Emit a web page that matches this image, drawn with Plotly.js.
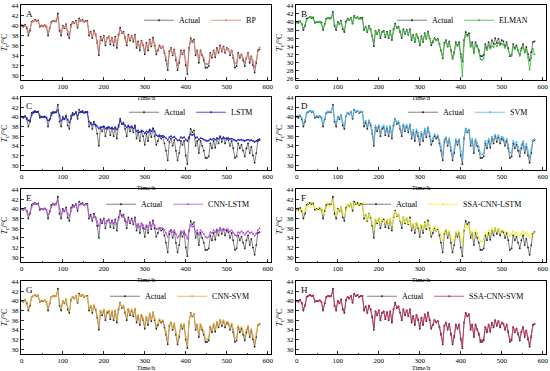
<!DOCTYPE html>
<html>
<head>
<meta charset="utf-8">
<script src="https://cdn.plot.ly/plotly-3.0.1.min.js"></script>
<style>html,body{margin:0;padding:0;background:#fff}#chart{width:550px;height:371px}</style>
</head>
<body>
<div id="chart"></div>
<script>
const time = [0,4,8,12,16,20,24,28,32,36,40,44,48,52,56,60,64,68,72,76,80,84,88,92,96,100,104,108,112,116,120,124,128,132,136,140,144,148,152,156,160,164,168,172,176,180,184,188,192,196,200,204,208,212,216,220,224,228,232,236,240,244,248,252,256,260,264,268,272,276,280,284,288,292,296,300,304,308,312,316,320,324,328,332,336,340,344,348,352,356,360,364,368,372,376,380,384,388,392,396,400,404,408,412,416,420,424,428,432,436,440,444,448,452,456,460,464,468,472,476,480,484,488,492,496,500,504,508,512,516,520,524,528,532,536,540,544,548,552,556,560,564,568,572,576,580];

const actual = [40.0,39.8,40.2,39.5,38.0,39.0,40.8,41.0,41.2,41.0,
41.1,39.8,40.0,39.9,40.1,39.8,38.0,39.5,40.8,41.0,
40.9,41.0,42.5,39.0,38.0,40.0,39.5,40.3,38.2,37.5,
40.2,40.8,40.5,41.0,39.6,41.5,41.0,41.2,40.8,41.0,
41.0,38.0,38.8,37.5,39.0,38.2,36.5,34.0,37.8,37.0,
38.0,36.0,37.5,37.8,36.2,37.6,36.0,37.8,35.5,38.2,
39.6,38.5,38.8,37.5,36.0,38.2,37.0,38.0,36.8,38.2,
35.5,36.8,35.0,37.0,36.0,34.2,36.5,35.0,37.2,35.8,
37.6,36.0,34.2,35.0,36.0,35.5,35.8,34.5,33.0,31.0,
34.8,35.5,34.0,35.2,33.0,31.0,32.5,35.0,34.2,35.0,
32.0,30.2,35.5,37.5,36.8,37.2,34.0,35.0,32.5,35.0,
34.0,33.0,31.5,31.5,31.8,34.5,33.5,35.0,33.6,35.5,
34.5,36.0,34.8,35.8,34.5,35.5,35.2,34.0,35.0,33.5,
31.5,31.8,34.5,33.5,34.2,33.0,31.8,33.5,34.5,32.5,
33.8,32.0,30.5,32.5,35.0,35.2];

const predBP = [40.2,40.0,40.0,39.8,38.6,39.3,40.6,41.0,41.0,41.1,
40.9,40.0,40.1,39.8,40.0,39.9,38.5,39.4,40.6,40.9,
41.0,40.8,41.8,39.5,38.6,39.8,39.7,40.1,38.8,38.0,
39.8,40.6,40.6,40.8,39.9,41.0,41.1,41.0,40.9,40.9,
40.8,38.5,38.6,37.9,38.7,38.4,37.0,35.0,37.5,37.4,
37.8,36.5,37.4,37.9,36.8,37.5,36.6,37.6,36.2,38.0,
39.2,38.6,38.6,37.8,36.6,37.9,37.3,37.9,37.2,37.9,
36.0,36.6,35.6,36.8,36.2,34.9,36.2,35.4,36.9,36.0,
37.2,36.2,34.8,35.2,35.8,35.6,35.7,34.8,33.6,32.0,
34.5,35.3,34.3,35.0,33.6,32.0,33.0,34.8,34.4,34.8,
32.6,31.2,35.0,37.0,36.6,36.9,34.5,34.9,33.2,34.8,
34.2,33.5,32.3,32.2,32.4,34.2,33.9,34.8,34.0,35.2,
34.8,35.7,35.0,35.6,34.8,35.4,35.2,34.4,34.9,34.0,
32.4,32.5,34.2,33.8,34.2,33.4,32.6,33.6,34.3,33.0,
33.8,32.8,31.6,32.8,34.8,35.6];

const predELMAN = [39.8,40.0,40.1,39.6,38.4,39.2,40.5,41.0,41.1,41.2,
40.8,39.7,40.1,39.9,40.0,39.6,38.3,39.3,40.6,41.0,
40.8,40.9,42.0,39.3,38.4,39.8,39.4,40.2,38.5,37.9,
39.9,40.6,40.4,40.9,39.8,41.2,41.0,41.1,40.9,40.8,
40.6,38.3,38.9,37.8,38.8,38.0,36.8,35.2,37.6,37.2,
37.9,36.5,37.4,37.6,36.6,37.4,36.4,37.6,36.0,37.9,
39.3,38.4,38.6,37.8,36.4,37.9,37.2,37.8,37.0,37.9,
35.9,36.6,35.4,36.8,36.2,34.6,36.2,35.3,37.0,35.9,
37.4,35.8,34.8,35.3,35.8,35.4,35.6,34.4,32.8,31.2,
34.4,35.2,33.8,34.9,32.8,30.8,32.0,34.6,34.0,34.6,
31.2,26.5,34.2,37.0,36.4,36.8,33.8,34.6,32.2,34.6,
33.8,32.6,30.8,30.6,31.0,33.8,33.0,34.2,33.4,34.0,
33.8,34.6,34.0,34.8,34.2,34.6,34.4,33.6,34.4,33.2,
31.8,31.6,33.8,33.2,33.8,32.8,31.6,33.0,33.9,32.4,
33.2,31.2,28.2,31.0,33.4,32.0];

const predLSTM = [40.0,40.0,40.0,39.8,39.2,39.3,40.3,40.8,41.0,41.0,
41.0,40.2,40.0,40.0,40.0,39.9,39.2,39.4,40.3,40.8,
40.9,40.9,41.4,40.2,39.2,39.6,39.6,40.0,39.4,38.8,
39.6,40.4,40.5,40.8,40.2,40.9,41.0,41.0,40.9,40.9,
40.9,39.0,38.6,38.4,38.5,38.4,38.0,37.6,37.8,37.9,
38.0,37.6,37.8,37.9,37.6,37.8,37.5,37.8,37.4,37.9,
39.2,38.6,38.5,38.2,37.8,38.1,37.8,38.0,37.6,37.9,
37.0,37.2,36.8,37.2,37.0,36.6,37.0,36.8,37.4,37.0,
37.6,37.0,36.2,36.0,36.2,36.0,36.1,35.9,35.6,35.2,
35.8,36.0,35.7,35.9,35.5,35.1,35.2,35.8,35.6,35.8,
35.3,35.0,35.8,36.4,36.2,36.4,35.6,35.8,35.3,35.6,
35.5,35.3,35.1,35.0,35.1,35.4,35.3,35.5,35.3,35.6,
35.5,35.8,35.5,35.7,35.5,35.6,35.6,35.4,35.5,35.3,
35.1,35.0,35.3,35.2,35.3,35.1,35.0,35.2,35.3,35.1,
35.2,35.0,34.8,35.0,35.3,35.4];

const predSVM = [40.2,40.1,40.4,39.8,38.6,39.4,40.9,41.1,41.2,41.1,
41.1,40.0,40.2,40.1,40.2,40.0,38.6,39.7,40.9,41.1,
41.0,41.1,42.2,39.4,38.6,40.1,39.8,40.4,38.8,38.2,
40.2,40.9,40.6,41.1,39.9,41.4,41.1,41.2,40.9,41.1,
41.0,38.6,39.2,38.1,39.3,38.6,37.2,35.2,38.2,37.6,
38.3,36.8,37.9,38.2,36.9,38.0,36.7,38.1,36.4,38.6,
39.6,38.8,39.1,38.0,36.8,38.5,37.6,38.4,37.4,38.5,
36.3,37.3,35.8,37.4,36.7,35.1,36.9,35.8,37.6,36.5,
37.9,36.6,35.0,35.6,36.4,35.9,36.2,35.2,33.9,32.2,
35.3,35.8,34.7,35.6,33.8,32.0,33.4,35.4,34.8,35.4,
32.9,31.2,35.8,37.6,37.0,37.4,34.7,35.5,33.4,35.4,
34.6,33.8,32.4,32.2,32.5,35.0,34.2,35.5,34.3,35.9,
35.2,36.3,35.5,36.2,35.2,35.9,35.7,34.7,35.5,34.3,
32.6,32.6,35.0,34.3,34.8,33.8,32.8,34.2,35.0,33.4,
34.4,33.0,31.6,33.4,35.2,35.4];

const predCNNLSTM = [40.0,39.9,40.0,39.6,38.8,39.2,40.4,40.9,41.0,41.0,
40.9,40.1,40.0,39.9,40.0,39.8,38.9,39.3,40.4,40.9,
40.8,40.9,41.6,40.0,38.9,39.5,39.6,40.0,39.0,38.6,
39.5,40.4,40.4,40.8,40.0,40.8,40.9,41.0,40.8,40.9,
40.8,38.6,38.4,38.0,38.4,38.2,37.4,36.4,37.4,37.5,
37.8,37.0,37.4,37.6,37.1,37.4,37.0,37.5,36.8,37.8,
38.9,38.4,38.3,37.9,37.2,37.8,37.4,37.7,37.2,37.7,
36.4,36.9,36.2,36.9,36.6,35.8,36.6,36.2,37.0,36.5,
37.2,36.6,35.8,35.9,36.1,36.0,36.0,35.6,35.0,34.2,
35.4,35.7,35.2,35.6,34.8,34.0,34.4,35.4,35.2,35.5,
34.6,33.8,35.6,36.6,36.3,36.4,35.2,35.6,34.6,35.6,
35.2,34.8,34.2,34.0,34.2,35.2,35.0,35.6,35.2,35.8,
35.5,36.0,35.6,35.9,35.6,35.8,35.7,35.3,35.6,35.1,
34.6,34.4,35.2,35.0,35.4,35.0,34.6,35.1,35.4,35.0,
35.2,34.8,34.4,34.9,35.6,36.0];

const predSSACNNLSTM = [39.6,40.2,39.8,39.9,38.9,39.6,40.4,41.2,40.8,41.3,
40.7,40.2,39.7,40.2,39.8,40.1,39.0,39.1,40.2,41.2,
40.5,41.3,41.8,40.3,38.6,39.8,39.2,40.5,39.2,38.8,
39.4,40.8,40.2,41.2,40.1,40.7,41.3,40.8,41.1,40.7,
41.1,38.4,38.9,37.7,38.9,38.5,37.2,35.8,37.9,37.3,
38.1,36.9,37.7,37.5,37.2,37.8,36.8,37.9,36.6,38.0,
39.4,38.6,38.9,37.6,37.2,38.2,37.2,38.1,37.0,37.8,
36.4,36.9,36.0,37.2,36.4,35.6,36.8,35.8,37.0,36.2,
37.2,36.4,35.2,35.8,36.3,35.6,36.0,35.2,34.4,33.4,
35.2,35.8,34.9,35.4,34.2,33.4,33.8,35.3,34.8,35.4,
33.8,33.0,35.8,36.8,36.0,36.6,34.8,35.4,34.0,35.6,
34.9,34.2,33.4,33.2,33.8,35.2,34.6,35.6,34.8,35.9,
35.2,36.0,35.4,35.8,35.1,35.6,35.5,35.0,35.3,34.8,
34.4,34.8,35.4,34.8,35.2,34.6,34.2,35.0,35.4,34.6,
35.2,34.6,34.0,34.7,35.2,35.0];

const predCNNSVM = [40.1,39.9,40.3,39.7,38.4,39.3,40.8,41.0,41.2,41.1,
41.0,39.9,40.1,40.0,40.1,39.9,38.4,39.6,40.8,41.0,
40.9,41.0,42.0,39.3,38.5,40.0,39.6,40.2,38.6,38.0,
40.0,40.8,40.5,41.0,39.8,41.2,41.0,41.1,40.8,41.0,
40.9,38.4,39.0,37.9,39.1,38.4,37.0,34.9,38.0,37.4,
38.2,36.6,37.8,38.0,36.8,37.9,36.5,38.0,36.2,38.5,
39.5,38.7,39.0,37.8,36.6,38.4,37.4,38.2,37.2,38.4,
36.1,37.1,35.6,37.2,36.5,34.9,36.7,35.6,37.4,36.2,
37.6,36.4,34.8,35.3,36.2,35.7,36.0,35.0,33.6,31.8,
35.0,35.6,34.4,35.4,33.5,31.6,33.0,35.2,34.6,35.2,
32.6,30.8,35.6,37.4,36.9,37.2,34.5,35.2,33.2,35.2,
34.4,33.6,32.2,32.0,32.4,34.8,34.0,35.3,34.1,35.7,
35.0,36.1,35.2,36.0,35.0,35.7,35.5,34.5,35.3,34.2,
32.4,32.4,34.8,34.1,34.6,33.6,32.6,34.0,34.8,33.2,
34.2,32.8,31.4,33.2,35.0,35.3];

const predSSACNNSVM = [40.0,39.9,40.2,39.6,38.2,39.1,40.8,41.0,41.2,41.0,
41.0,39.9,40.0,39.9,40.1,39.8,38.2,39.5,40.8,41.0,
40.9,41.0,42.2,39.1,38.2,40.0,39.5,40.3,38.4,37.8,
40.1,40.8,40.5,41.0,39.7,41.4,41.0,41.2,40.8,41.0,
41.0,38.2,38.9,37.6,39.0,38.3,36.8,34.5,37.8,37.1,
38.0,36.3,37.6,37.8,36.5,37.7,36.2,37.8,35.8,38.3,
39.5,38.6,38.9,37.6,36.3,38.2,37.1,38.0,37.0,38.2,
35.8,36.9,35.3,37.1,36.2,34.6,36.5,35.3,37.2,36.0,
37.5,36.2,34.5,35.1,36.0,35.6,35.8,34.7,33.3,31.4,
34.9,35.5,34.2,35.2,33.3,31.3,32.8,35.1,34.4,35.1,
32.3,30.6,35.5,37.4,36.8,37.2,34.3,35.1,32.9,35.1,
34.2,33.3,31.9,31.8,32.1,34.6,33.8,35.1,33.8,35.5,
34.7,35.9,35.0,35.8,34.7,35.5,35.3,34.2,35.1,33.8,
31.9,32.1,34.6,33.7,34.3,33.3,32.2,33.7,34.6,32.8,
33.9,32.4,30.9,32.8,35.0,35.2];

const panelLetters = ['A','B','C','D','E','F','G','H'];
const modelNames = ['BP','ELMAN','LSTM','SVM','CNN-LSTM','SSA-CNN-LSTM','CNN-SVM','SSA-CNN-SVM'];
const modelSeries = [predBP, predELMAN, predLSTM, predSVM, predCNNLSTM, predSSACNNLSTM, predCNNSVM, predSSACNNSVM];
const yTickVals = [26,28,30,32,34,36,38,40,42,44];
const xTickVals = [0,100,200,300,400,500,600];

// styles
const modelColors = ['#e07a6c','#3cb83c','#2424c8','#52b2e8','#b452e0','#eeee24','#e8a832','#c42a5c'];
const FONT = 'Liberation Serif, Times New Roman, serif';
const W = 550, H = 371;
const colPx = [[21,271],[296,546]];
const rowPx = [[5,80],[97,170],[189,262],[281,354]];
const legendRight = [262,533,258,533,254,527,255,529];
const yRanges = [[29,44.2],[25.6,44.2],[29,44.1],[29,44.1],[29,44.1],[29,44.1],[29,44.1],[29,44.1]];

const traces = [];
const layout = {
  width: W, height: H,
  margin: {l:0, r:0, t:0, b:0},
  paper_bgcolor: '#fff', plot_bgcolor: '#fff',
  font: {family: FONT, color: '#000', size: 7},
  showlegend: true,
  annotations: []
};

for (let i = 0; i < 8; i++) {
  const col = i % 2, row = Math.floor(i / 2);
  const n = i + 1;
  const xa = n === 1 ? 'x' : 'x' + n;
  const ya = n === 1 ? 'y' : 'y' + n;
  const leg = n === 1 ? 'legend' : 'legend' + n;
  const xd = [colPx[col][0] / W, colPx[col][1] / W];
  const yd = [1 - rowPx[row][1] / H, 1 - rowPx[row][0] / H];

  traces.push({
    x: time, y: actual, xaxis: xa, yaxis: ya, legend: leg,
    name: 'Actual', type: 'scatter', mode: 'lines+markers',
    line: {color: '#4a4a4a', width: 0.7},
    marker: {color: '#2a2a2a', size: 1.8, symbol: 'circle'}
  });
  traces.push({
    x: time, y: modelSeries[i], xaxis: xa, yaxis: ya, legend: leg,
    name: modelNames[i], type: 'scatter', mode: 'lines+markers',
    line: {color: modelColors[i], width: 0.8},
    marker: {color: modelColors[i], size: 1.8, symbol: 'circle'}
  });

  const axCommon = {
    showline: true, linecolor: '#000', linewidth: 1, mirror: true,
    ticks: 'inside', ticklen: 3, tickwidth: 0.8, tickcolor: '#000',
    showgrid: false, zeroline: false,
    tickfont: {family: FONT, size: 7, color: '#000'}
  };
  layout['xaxis' + (n === 1 ? '' : n)] = Object.assign({}, axCommon, {
    domain: xd, anchor: ya, range: [-2, 608], tickvals: xTickVals,
    title: {text: 'Time/h', font: {family: FONT, size: 6.5}, standoff: 5},
    minor: {ticks: 'inside', ticklen: 1.5, dtick: 50, tickcolor: '#000'}
  });
  const yr = yRanges[i];
  layout['yaxis' + (n === 1 ? '' : n)] = Object.assign({}, axCommon, {
    domain: yd, anchor: xa, range: yr,
    tickvals: yTickVals.filter(v => v >= yr[0] && v <= yr[1] + 0.2),
    title: {text: '<i>T</i><sub>c</sub>/°C', font: {family: FONT, size: 8}, standoff: 2}
  });
  layout[leg] = {
    x: legendRight[i] / W, xanchor: 'right',
    y: yd[1] - 0.002, yanchor: 'top',
    orientation: 'h', bgcolor: 'rgba(0,0,0,0)',
    font: {family: FONT, size: 8, color: '#000'},
    itemwidth: 30, tracegroupgap: 0
  };
  layout.annotations.push({
    text: panelLetters[i], xref: 'paper', yref: 'paper',
    x: xd[0] + 3 / W, y: yd[1] - 2 / H, xanchor: 'left', yanchor: 'top',
    showarrow: false, font: {family: FONT, size: 9, color: '#000'}
  });
}

Plotly.newPlot('chart', traces, layout, {staticPlot: true, displayModeBar: false});
</script>
</body>
</html>
